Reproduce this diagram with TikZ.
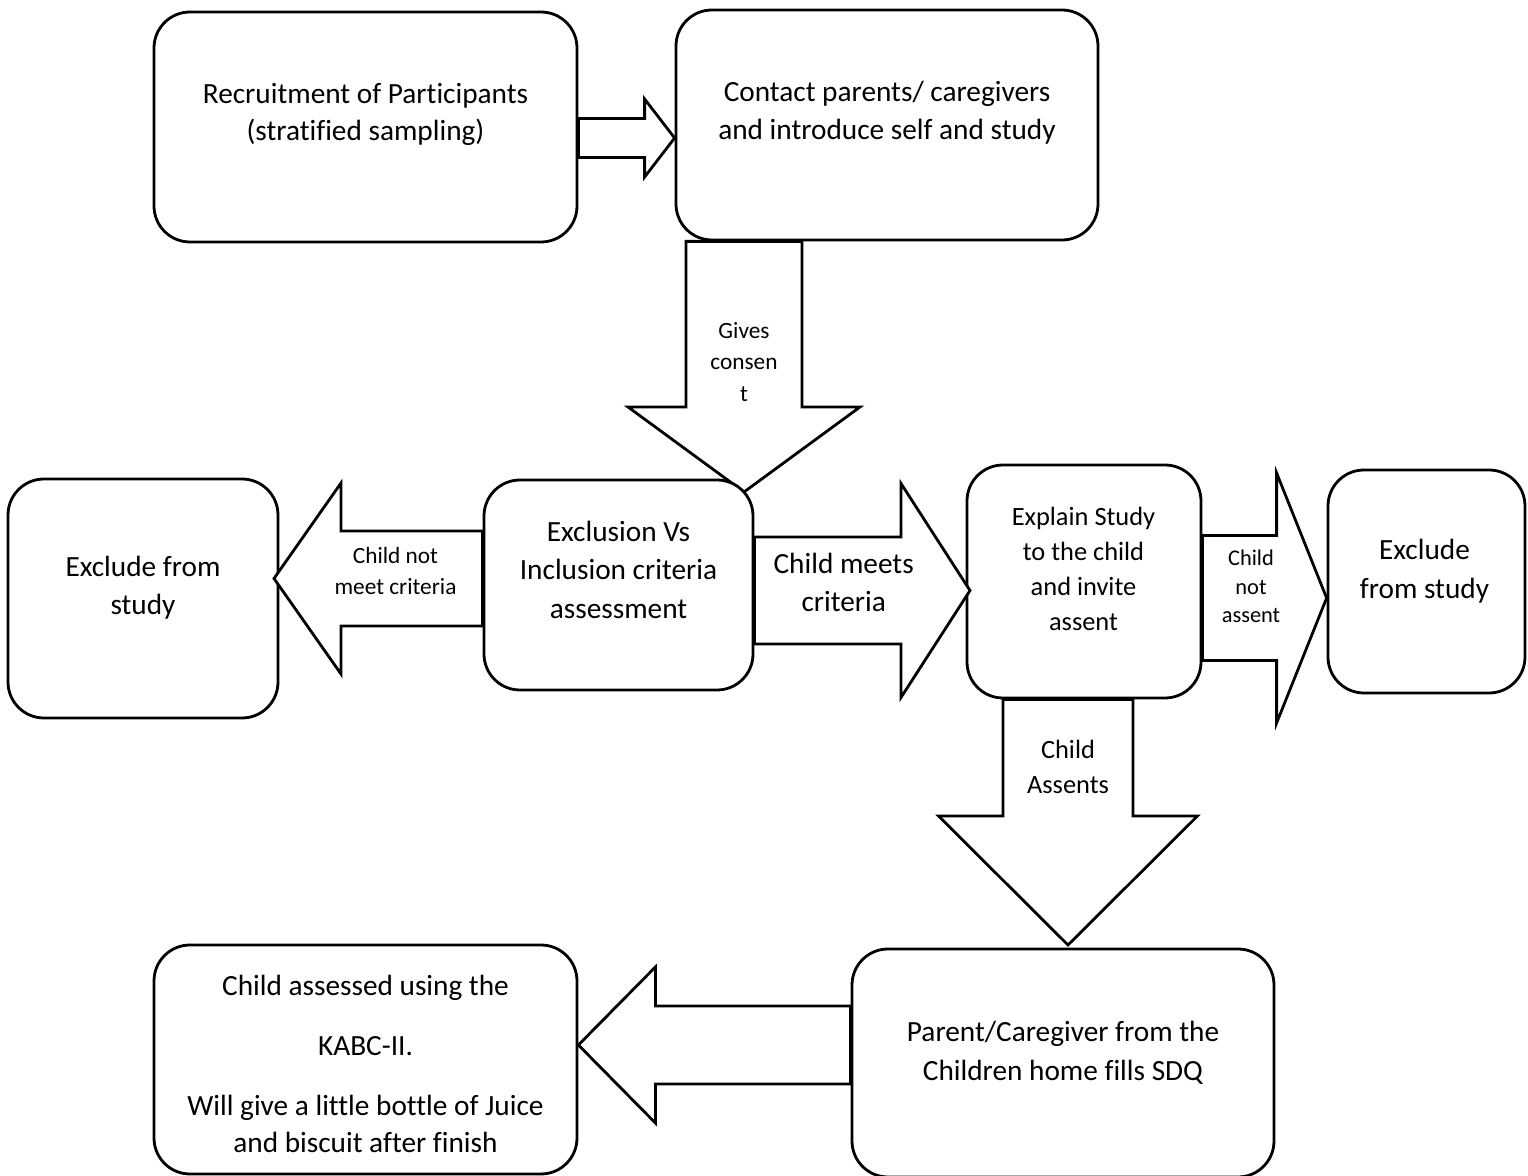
\documentclass[tikz,border=0pt]{standalone}
\usepackage{fontspec}
\setmainfont{Carlito}[Ligatures=NoCommon]
\usetikzlibrary{calc}
\tikzset{
  box/.style={draw, rounded corners=18pt, line width=1.4pt, fill=white, inner sep=0pt},
  barrow/.style={draw, fill=white, line width=1.4pt, line join=miter},
  tbig/.style={anchor=base, inner sep=0pt, font=\fontsize{14.65pt}{17pt}\selectfont},
  tmid/.style={anchor=base, inner sep=0pt, font=\fontsize{13.2pt}{16pt}\selectfont},
  tsmall/.style={anchor=base, inner sep=0pt, font=\fontsize{11.65pt}{14pt}\selectfont},
  ttiny/.style={anchor=base, inner sep=0pt, font=\fontsize{11.2pt}{13pt}\selectfont},
}
% right-pointing block arrow: start, tip, head length, shaft half, head half
\newcommand\blkarrowR[5]{%
  \draw[barrow] ($(#1)+(0,-#4)$) -- ($(#2)+(-#3,-#4)$) -- ($(#2)+(-#3,-#5)$) -- (#2)
    -- ($(#2)+(-#3,#5)$) -- ($(#2)+(-#3,#4)$) -- ($(#1)+(0,#4)$) -- cycle;}
% left-pointing block arrow
\newcommand\blkarrowL[5]{%
  \draw[barrow] ($(#1)+(0,-#4)$) -- ($(#2)+(#3,-#4)$) -- ($(#2)+(#3,-#5)$) -- (#2)
    -- ($(#2)+(#3,#5)$) -- ($(#2)+(#3,#4)$) -- ($(#1)+(0,#4)$) -- cycle;}
% down-pointing block arrow
\newcommand\blkarrowD[5]{%
  \draw[barrow] ($(#1)+(-#4,0)$) -- ($(#2)+(-#4,-#3)$) -- ($(#2)+(-#5,-#3)$) -- (#2)
    -- ($(#2)+(#5,-#3)$) -- ($(#2)+(#4,-#3)$) -- ($(#1)+(#4,0)$) -- cycle;}
\begin{document}
\begin{tikzpicture}[x=0.5pt, y=-0.5pt]
\useasboundingbox (0,0) rectangle (1528,1176);

% top boxes
\node[box, minimum width=211.5pt, minimum height=115pt] (rec) at (365.5,127) {};
\node[box, minimum width=211pt, minimum height=115pt] (contact) at (887,125) {};

% arrow A
\coordinate (aAs) at (rec.east |- 0,138);
\coordinate (aAt) at (contact.west |- 0,138);
\blkarrowR{aAs}{aAt}{30}{19.5}{39}

% arrow B (drawn under the criteria box)
\coordinate (aBs) at (contact.south -| 744,0);
\coordinate (aBt) at (744,492);
\blkarrowD{aBs}{aBt}{85}{58}{116}

% middle and bottom boxes
\node[box, minimum width=135pt, minimum height=119.5pt] (exL) at (143,598.5) {};
\node[box, minimum width=134.5pt, minimum height=105pt] (excl) at (618.5,585) {};
\node[box, minimum width=117pt, minimum height=116.5pt] (explain) at (1084,581.5) {};
\node[box, minimum width=98.5pt, minimum height=111.5pt] (exR) at (1426.5,581.5) {};
\node[box, minimum width=211.5pt, minimum height=114.5pt] (child) at (365.5,1059.5) {};
\node[box, minimum width=211pt, minimum height=114pt] (parent) at (1063,1063) {};

% arrow C
\coordinate (aCs) at (excl.west |- 0,578.5);
\coordinate (aCt) at (274,578.5);
\blkarrowL{aCs}{aCt}{67}{47.5}{95.5}

% arrow D
\coordinate (aDs) at (excl.east |- 0,590.5);
\coordinate (aDt) at (970,590.5);
\blkarrowR{aDs}{aDt}{69}{53.5}{107}

% arrow E
\coordinate (aEs) at (explain.east |- 0,598);
\coordinate (aEt) at (exR.west |- 0,598);
\blkarrowR{aEs}{aEt}{50}{62.5}{125}

% arrow F
\coordinate (aFs) at (explain.south -| 1068,0);
\coordinate (aFt) at (1068,945);
\blkarrowD{aFs}{aFt}{129}{65}{129.5}

% arrow G
\coordinate (aGs) at (parent.west |- 0,1045);
\coordinate (aGt) at (child.east |- 0,1045);
\blkarrowL{aGs}{aGt}{77}{39}{78}

% texts in boxes
\node[tbig] (r1) at (365.5,103.3) {Recruitment of Participants};
\node[tbig] (r2) at (365.5,141) {(stratified sampling)};
\node[tbig] (c1) at (887,101.7) {Contact parents/ caregivers};
\node[tbig] (c2) at (887,139.3) {and introduce self and study};
\node[tbig] (l1) at (143,576.7) {Exclude from};
\node[tbig] (l2) at (143,615) {study};
\node[tbig] (e1) at (618.5,541.7) {Exclusion Vs};
\node[tbig] (e2) at (618.5,580) {Inclusion criteria};
\node[tbig] (e3) at (618.5,618.3) {assessment};
\node[tmid] (x1) at (1083.5,525.7) {Explain Study};
\node[tmid] (x2) at (1083.5,561) {to the child};
\node[tmid] (x3) at (1083.5,595.7) {and invite};
\node[tmid] (x4) at (1083.5,630.7) {assent};
\node[tbig] (rr1) at (1424.5,560) {Exclude};
\node[tbig] (rr2) at (1424.5,598.3) {from study};
\node[tbig] (k1) at (365.5,995.7) {Child assessed using the};
\node[tbig] (k2) at (365.5,1055) {KABC-II.};
\node[tbig] (k3) at (365.5,1115) {Will give a little bottle of Juice};
\node[tbig] (k4) at (365.5,1152.7) {and biscuit after finish};
\node[tbig] (p1) at (1063,1041.7) {Parent/Caregiver from the};
\node[tbig] (p2) at (1063,1080) {Children home fills SDQ};

% arrow labels
\node[tsmall] (g1) at (744,338.3) {Gives};
\node[tsmall] (g2) at (744,370) {consen};
\node[tsmall] (g3) at (744,401.7) {t};
\node[tsmall] (n1) at (395.5,563.3) {Child not};
\node[tsmall] (n2) at (395.5,595) {meet criteria};
\node[tbig] (m1) at (843.7,573.3) {Child meets};
\node[tbig] (m2) at (843.7,612) {criteria};
\node[ttiny] (s1) at (1251,566) {Child};
\node[ttiny] (s2) at (1251,595) {not};
\node[ttiny] (s3) at (1251,623) {assent};
\node[tmid] (f1) at (1068,759) {Child};
\node[tmid] (f2) at (1068,794) {Assents};
\end{tikzpicture}
\end{document}
